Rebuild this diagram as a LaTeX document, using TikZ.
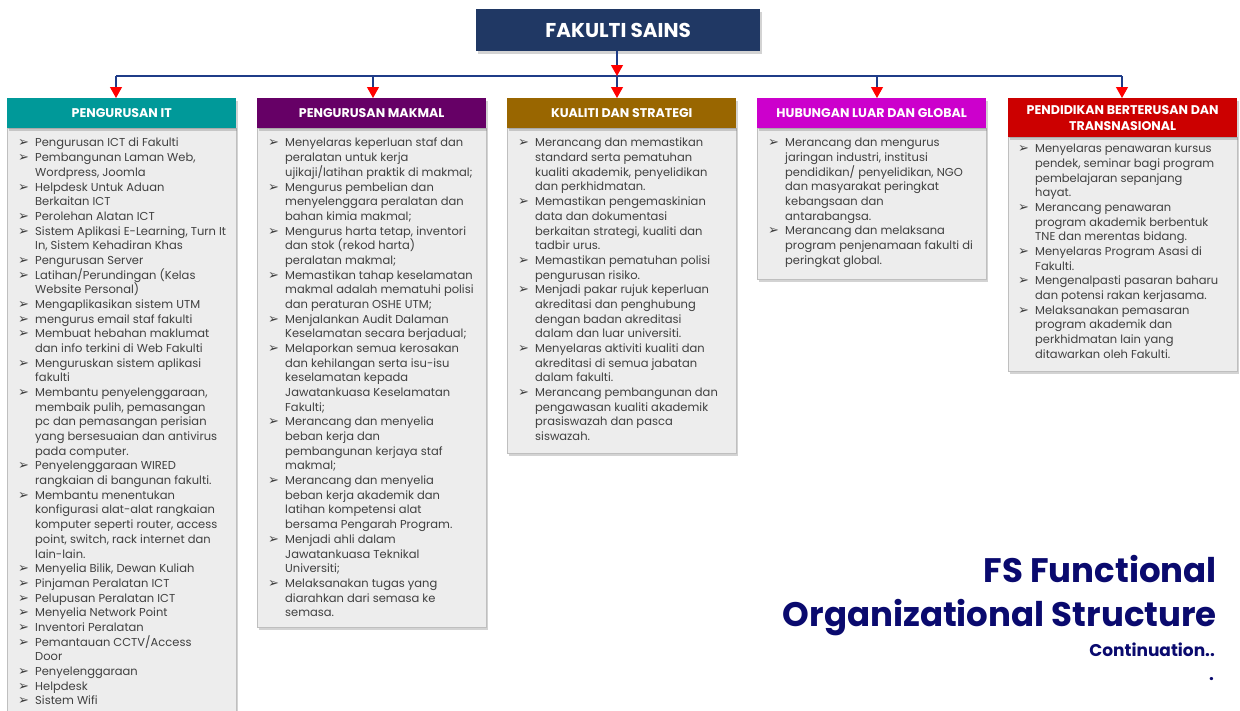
\documentclass[tikz,border=0pt]{standalone}
\usepackage{fontspec}
\setmainfont{Poppins}
\newfontfamily\symf{DejaVu Sans}
\usetikzlibrary{arrows.meta,shadows}
\definecolor{navy}{HTML}{203864}
\definecolor{linenavy}{HTML}{1F3C88}
\definecolor{cteal}{HTML}{009999}
\definecolor{cpurple}{HTML}{660066}
\definecolor{cbrown}{HTML}{996600}
\definecolor{cmagenta}{HTML}{CC00CC}
\definecolor{cred}{HTML}{CC0000}
\definecolor{bodyfill}{HTML}{EDEDED}
\definecolor{bodyline}{HTML}{BFBFBF}
\definecolor{txtgray}{HTML}{404040}
\definecolor{titleblue}{HTML}{0A0A6E}
\newcommand\bul{{\symf\fontsize{13}{13}\selectfont ➢}}
\newcommand\bi{\makebox[17pt][l]{\bul}}
\newcommand\ci{\makebox[17pt]{}}
\tikzset{
  shd/.style={drop shadow={opacity=0.35,shadow xshift=2pt,shadow yshift=-3pt}},
  topbox/.style={shd,fill=navy,draw=none,minimum width=284pt,minimum height=42pt,anchor=north west,
     text=white,font=\bfseries\fontsize{20}{24}\selectfont},
  hdr/.style={shd,draw=none,minimum width=229pt,anchor=north west,text=white,align=center,
     font=\bfseries\fontsize{12.6}{16}\selectfont,inner sep=1pt},
  bodybox/.style={shd,fill=bodyfill,draw=bodyline,line width=0.6pt,minimum width=229pt,anchor=north west},
  bodytext/.style={anchor=north west,inner sep=0pt,align=left,text=txtgray,
     font=\fontsize{11.5}{14.68}\selectfont},
  conn/.style={draw=linenavy,line width=1.2pt},
  arr/.style={conn,-{Triangle[width=12pt,length=11pt,color=red,fill=red]}},
}
\begin{document}
\begin{tikzpicture}[x=1pt,y=-1pt]
\useasboundingbox (0,0) rectangle (1240,710);
% top
\node[topbox] (top) at (476,9) {FAKULTI SAINS};
% headers and bodies
\node[bodybox,minimum height=620pt] (b1) at (7,128) {};
\node[hdr,fill=cteal,minimum height=30pt] (h1) at (7,98) {PENGURUSAN IT};
\node[bodybox,minimum height=499pt] (b2) at (257,128) {};
\node[hdr,fill=cpurple,minimum height=30pt] (h2) at (257,98) {PENGURUSAN MAKMAL};
\node[bodybox,minimum height=325pt] (b3) at (507,128) {};
\node[hdr,fill=cbrown,minimum height=30pt] (h3) at (507,98) {KUALITI DAN STRATEGI};
\node[bodybox,minimum height=151pt] (b4) at (757,128) {};
\node[hdr,fill=cmagenta,minimum height=30pt] (h4) at (757,98) {HUBUNGAN LUAR DAN GLOBAL};
\node[bodybox,minimum height=234pt] (b5) at (1008,137) {};
\node[hdr,fill=cred,minimum height=39pt] (h5) at (1008,98) {PENDIDIKAN BERTERUSAN DAN\\TRANSNASIONAL};
% connectors
\coordinate (j1) at (116,76);
\coordinate (j2) at (373,76);
\coordinate (j3) at (617,76);
\coordinate (j4) at (877,76);
\coordinate (j5) at (1122,76);
\draw[conn] (j1) -- (j5);
\draw[arr] (top.south -| j3) -- (j3);
\draw[arr] (j1) -- (j1 |- h1.north);
\draw[arr] (j2) -- (j2 |- h2.north);
\draw[arr] (j3) -- (j3 |- h3.north);
\draw[arr] (j4) -- (j4 |- h4.north);
\draw[arr] (j5) -- (j5 |- h5.north);
% texts
\node[bodytext] (t1) at (18,138) {%
\bi Pengurusan ICT di Fakulti\\
\bi Pembangunan Laman Web,\\
\ci Wordpress, Joomla\\
\bi Helpdesk Untuk Aduan\\
\ci Berkaitan ICT\\
\bi Perolehan Alatan ICT\\
\bi Sistem Aplikasi E-Learning, Turn It\\
\ci In, Sistem Kehadiran Khas\\
\bi Pengurusan Server\\
\bi Latihan/Perundingan (Kelas\\
\ci Website Personal)\\
\bi Mengaplikasikan sistem UTM\\
\bi mengurus email staf fakulti\\
\bi Membuat hebahan maklumat\\
\ci dan info terkini di Web Fakulti\\
\bi Menguruskan sistem aplikasi\\
\ci fakulti\\
\bi Membantu penyelenggaraan,\\
\ci membaik pulih, pemasangan\\
\ci pc dan pemasangan perisian\\
\ci yang bersesuaian dan antivirus\\
\ci pada computer.\\
\bi Penyelenggaraan WIRED\\
\ci rangkaian di bangunan fakulti.\\
\bi Membantu menentukan\\
\ci konfigurasi alat-alat rangkaian\\
\ci komputer seperti router, access\\
\ci point, switch, rack internet dan\\
\ci lain-lain.\\
\bi Menyelia Bilik, Dewan Kuliah\\
\bi Pinjaman Peralatan ICT\\
\bi Pelupusan Peralatan ICT\\
\bi Menyelia Network Point\\
\bi Inventori Peralatan\\
\bi Pemantauan CCTV/Access\\
\ci Door\\
\bi Penyelenggaraan\\
\bi Helpdesk\\
\bi Sistem Wifi};
\node[bodytext] (t2) at (268,138) {%
\bi Menyelaras keperluan staf dan\\
\ci peralatan untuk kerja\\
\ci ujikaji/latihan praktik di makmal;\\
\bi Mengurus pembelian dan\\
\ci menyelenggara peralatan dan\\
\ci bahan kimia makmal;\\
\bi Mengurus harta tetap, inventori\\
\ci dan stok (rekod harta)\\
\ci peralatan makmal;\\
\bi Memastikan tahap keselamatan\\
\ci makmal adalah mematuhi polisi\\
\ci dan peraturan OSHE UTM;\\
\bi Menjalankan Audit Dalaman\\
\ci Keselamatan secara berjadual;\\
\bi Melaporkan semua kerosakan\\
\ci dan kehilangan serta isu-isu\\
\ci keselamatan kepada\\
\ci Jawatankuasa Keselamatan\\
\ci Fakulti;\\
\bi Merancang dan menyelia\\
\ci beban kerja dan\\
\ci pembangunan kerjaya staf\\
\ci makmal;\\
\bi Merancang dan menyelia\\
\ci beban kerja akademik dan\\
\ci latihan kompetensi alat\\
\ci bersama Pengarah Program.\\
\bi Menjadi ahli dalam\\
\ci Jawatankuasa Teknikal\\
\ci Universiti;\\
\bi Melaksanakan tugas yang\\
\ci diarahkan dari semasa ke\\
\ci semasa.};
\node[bodytext] (t3) at (518,138) {%
\bi Merancang dan memastikan\\
\ci standard serta pematuhan\\
\ci kualiti akademik, penyelidikan\\
\ci dan perkhidmatan.\\
\bi Memastikan pengemaskinian\\
\ci data dan dokumentasi\\
\ci berkaitan strategi, kualiti dan\\
\ci tadbir urus.\\
\bi Memastikan pematuhan polisi\\
\ci pengurusan risiko.\\
\bi Menjadi pakar rujuk keperluan\\
\ci akreditasi dan penghubung\\
\ci dengan badan akreditasi\\
\ci dalam dan luar universiti.\\
\bi Menyelaras aktiviti kualiti dan\\
\ci akreditasi di semua jabatan\\
\ci dalam fakulti.\\
\bi Merancang pembangunan dan\\
\ci pengawasan kualiti akademik\\
\ci prasiswazah dan pasca\\
\ci siswazah.};
\node[bodytext] (t4) at (768,138) {%
\bi Merancang dan mengurus\\
\ci jaringan industri, institusi\\
\ci pendidikan/ penyelidikan, NGO\\
\ci dan masyarakat peringkat\\
\ci kebangsaan dan\\
\ci antarabangsa.\\
\bi Merancang dan melaksana\\
\ci program penjenamaan fakulti di\\
\ci peringkat global.};
\node[bodytext] (t5) at (1018,144) {%
\bi Menyelaras penawaran kursus\\
\ci pendek, seminar bagi program\\
\ci pembelajaran sepanjang\\
\ci hayat.\\
\bi Merancang penawaran\\
\ci program akademik berbentuk\\
\ci TNE dan merentas bidang.\\
\bi Menyelaras Program Asasi di\\
\ci Fakulti.\\
\bi Mengenalpasti pasaran baharu\\
\ci dan potensi rakan kerjasama.\\
\bi Melaksanakan pemasaran\\
\ci program akademik dan\\
\ci perkhidmatan lain yang\\
\ci ditawarkan oleh Fakulti.};
% title
\node[anchor=base east,inner sep=0,text=titleblue,font=\bfseries\fontsize{34}{40}\selectfont] (ti1) at (1217,582) {FS Functional};
\node[anchor=base east,inner sep=0,text=titleblue,font=\bfseries\fontsize{34}{40}\selectfont] (ti2) at (1217,626) {Organizational Structure};
\node[anchor=base east,inner sep=0,text=titleblue,font=\bfseries\fontsize{17}{20}\selectfont] (ti3) at (1215,656) {Continuation..};
\node[anchor=base east,inner sep=0,text=titleblue,font=\bfseries\fontsize{17}{20}\selectfont] (ti4) at (1214,680) {.};
\end{tikzpicture}
\end{document}
